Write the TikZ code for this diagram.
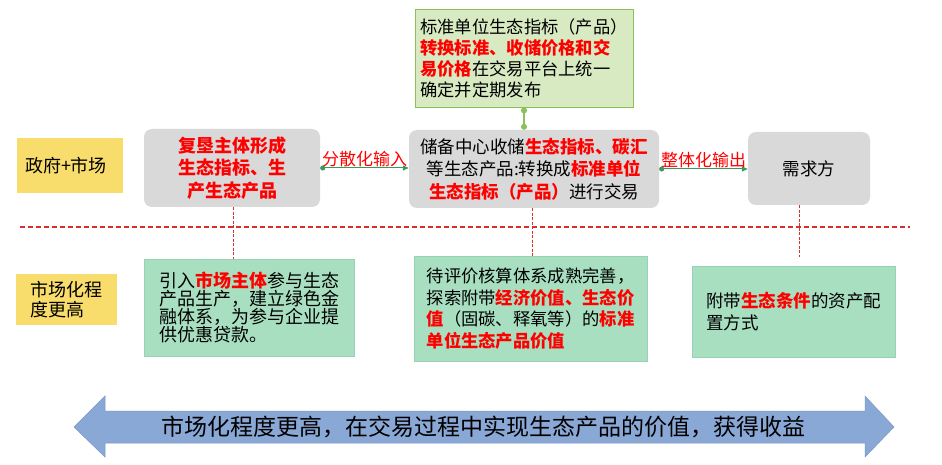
\documentclass[tikz,border=0pt]{standalone}
\usepackage{fontspec}
\setmainfont{Noto Sans CJK SC}
\usetikzlibrary{arrows.meta}
\definecolor{cyellow}{HTML}{F8DC6C}
\definecolor{cgray}{HTML}{D9D9D9}
\definecolor{ctopfill}{HTML}{D8EAC2}
\definecolor{ctopdraw}{HTML}{8CBF5A}
\definecolor{cmint}{HTML}{A8DFC0}
\definecolor{cmintdraw}{HTML}{96D3B2}
\definecolor{cconn}{HTML}{3A9A5B}
\definecolor{clight}{HTML}{8CC05A}
\definecolor{cred}{HTML}{FF0000}
\definecolor{cdash}{HTML}{D83030}
\definecolor{carrow}{HTML}{8AA8D6}
\definecolor{carrowdraw}{HTML}{7A98C6}
\newcommand{\redb}[1]{{\color{cred}\bfseries #1}}
\tikzset{
  txt/.style={inner sep=0pt, text=black},
  ybox/.style={txt, fill=cyellow, align=left},
  gbox/.style={txt, fill=cgray, rounded corners=8pt, align=center},
  mbox/.style={txt, fill=cmint, draw=cmintdraw, line width=0.6pt, align=left},
  tbox/.style={txt, fill=ctopfill, draw=ctopdraw, line width=0.8pt, align=left},
  flow/.style={cconn, line width=1pt, {Circle[length=5pt]}-{Triangle[length=6pt,width=5pt]}},
  linkg/.style={clight, line width=1.2pt, {Circle[length=6pt]}-{Circle[length=6pt]}},
  drop/.style={cdash, line width=1pt, dash pattern=on 3pt off 1.5pt},
  sep/.style={cdash, line width=1.3pt, dash pattern=on 5pt off 3pt},
  flab/.style={text=cred, inner sep=0.5pt, font=\fontsize{17}{20}\selectfont},
}
\begin{document}
\begin{tikzpicture}[x=1pt,y=-1pt]
\fill[white] (0,0) rectangle (942,465);
\useasboundingbox (0,0) rectangle (942,465);

% row labels
\node[ybox, minimum width=106pt, minimum height=55pt, font=\fontsize{18}{21}\selectfont] (y1) at (70,165.5) {政府+市场\hspace{8pt}};
\node[ybox, minimum width=101pt, minimum height=51pt, font=\fontsize{18}{20.5}\selectfont] (y2) at (66.5,299.5) {市场化程\hspace{8pt}\\度更高\hspace{26pt}};

% top green note
\node[tbox, minimum width=218pt, minimum height=98pt, font=\fontsize{17.3}{21}\selectfont] (top) at (524,58)
  {标准单位生态指标（产品）\\
   \redb{转换标准、收储价格和交}\\
   \redb{易价格}在交易平台上统一\\
   确定并定期发布};

% gray process boxes
\node[gbox, minimum width=176pt, minimum height=78pt, font=\fontsize{18}{22.5}\selectfont] (g1) at (232,168)
  {\redb{复垦主体形成}\\\redb{生态指标、生}\\\redb{产生态产品}};
\node[gbox, minimum width=250pt, minimum height=78pt, font=\fontsize{17.5}{22.5}\selectfont] (g2) at (534,169)
  {储备中心收储\redb{生态指标、碳汇}\\
   等生态产品:转换成\redb{标准单位}\\
   \redb{生态指标（产品）}进行交易};
\node[gbox, minimum width=122pt, minimum height=73pt, font=\fontsize{17.5}{21}\selectfont] (g3) at (809,168.5) {需求方};

% bottom mint boxes
\node[mbox, minimum width=210pt, minimum height=97pt, font=\fontsize{18}{18}\selectfont] (m1) at (249,307.5)
  {引入\redb{市场主体}参与生态\hspace{4pt}\\
   产品生产，建立绿色金\\
   融体系，为参与企业提\\
   供优惠贷款。};
\node[mbox, minimum width=233pt, minimum height=105pt, font=\fontsize{17.3}{21.7}\selectfont] (m2) at (530.5,308.5)
  {待评价核算体系成熟完善，\\
   探索附带\redb{经济价值、生态价}\\
   \redb{值}（固碳、释氧等）的\redb{标准}\\
   \redb{单位生态产品价值}};
\node[mbox, minimum width=203pt, minimum height=91pt, font=\fontsize{17.5}{21.7}\selectfont] (m3) at (793.5,311.5)
  {附带\redb{生态条件}的资产配\\
   置方式};

% separator
\coordinate (sl) at (20,227);
\coordinate (sr) at (910,227);
\draw[sep] (sl) -- (sr);

% flows
\draw[flow] (g1.east) -- node[flab, above] (l1) {分散化输入} (g2.west |- g1.east);
\draw[flow] (g2.east) -- node[flab, above] (l2) {整体化输出} (g3.west |- g2.east);
\draw[linkg] (top.south) -- (top.south |- g2.north);

% drops to lower row
\draw[drop] (g1.south -| 233,0) -- (m1.north -| 233,0);
\draw[drop] (g2.south -| 532,0) -- (m2.north -| 532,0);
\coordinate (d3) at (799,257);
\draw[drop] (g3.south -| d3) -- (d3);

% big double arrow
\fill[carrow, draw=carrowdraw, line width=0.5pt]
  (74,427) -- (105,396) -- (105,411) -- (865,411) -- (865,396) -- (894,427)
  -- (865,457) -- (865,443) -- (105,443) -- (105,457) -- cycle;
\node[txt, font=\fontsize{23}{26}\selectfont] (big) at (483,427)
  {市场化程度更高，在交易过程中实现生态产品的价值，获得收益};
\end{tikzpicture}
\end{document}
